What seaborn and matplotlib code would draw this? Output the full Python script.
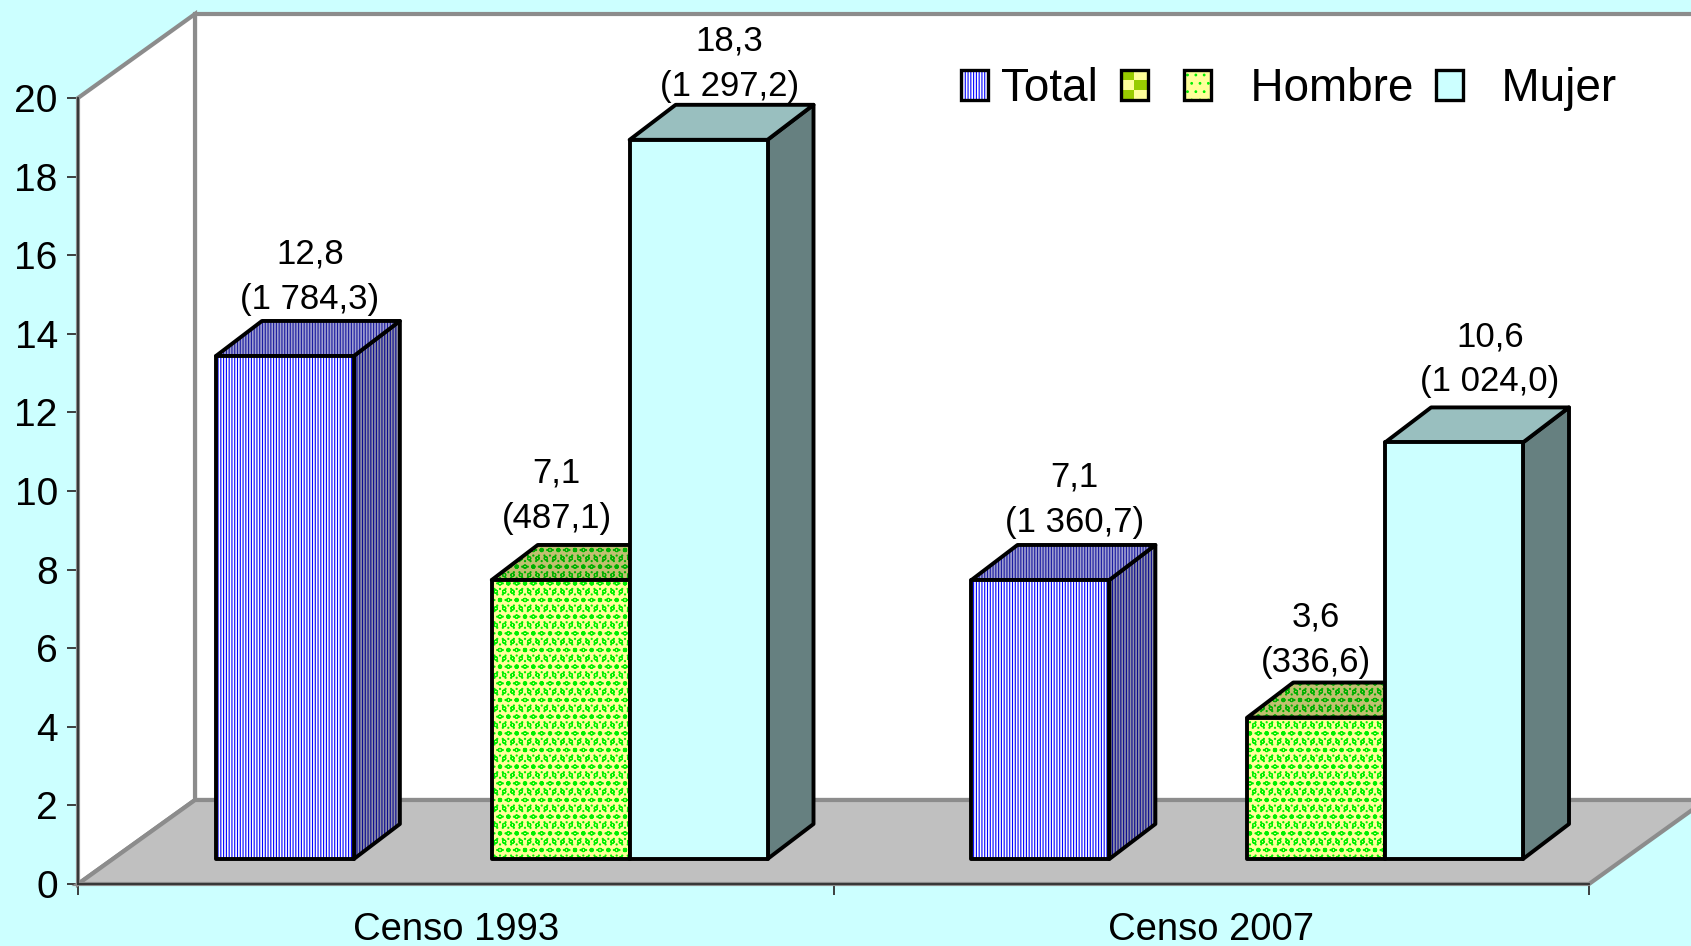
import matplotlib
matplotlib.use("Agg")
import matplotlib.pyplot as plt
import pandas as pd
import seaborn as sns
from matplotlib.patches import Polygon, Rectangle, Patch
from matplotlib.legend_handler import HandlerBase

# ---- data ----
censos = ["Censo 1993", "Censo 2007"]
total_values = [12.8, 7.1]
hombre_values = [7.1, 3.6]
mujer_values = [18.3, 10.6]
blank_series = " "
series_order = ["Total", blank_series, "Hombre", "Mujer"]
labels_total = ["12,8\n(1 784,3)", "7,1\n(1 360,7)"]
labels_hombre = ["7,1\n(487,1)", "3,6\n(336,6)"]
labels_mujer = ["18,3\n(1 297,2)", "10,6\n(1 024,0)"]
y_ticks = list(range(0, 21, 2))

# ---- style ----
W, H = 1691, 946
BG = "#CCFFFF"
GREY_EDGE = "#8C8C8C"
FLOOR = "#C0C0C0"
AX_L, AX_R, AX_B, AX_T = 78, 1589, 884, 98   # pixels, top-left origin
WALL_DX, WALL_DY = 117, 84
PLANE_DX, PLANE_DY = 36, 25
BAR_DX, BAR_DY = 46, 35
STYLES = {
    "Total":  dict(face="#FFFFFF", ink="#0000FF", hatch="|" * 6,
                   side="#9090A8", side_ink="#0A0A90", top="#A0A0D0", top_ink="#1A1AA0"),
    "Hombre": dict(face="#FFFF99", ink="#00F000", hatch="...oo",
                   side="#808040", side_ink="#00A000", top="#C0C070", top_ink="#00B000"),
    "Mujer":  dict(face="#CCFFFF", ink="#CCFFFF", hatch=None,
                   side="#668080", side_ink="#668080", top="#99BFBF", top_ink="#99BFBF"),
}
# label displacement from the bar's centre/top (pixels)
label_dx = {"Total": [25, 34], "Hombre": [-4, 0], "Mujer": [31, 36]}
label_dy = {"Total": [79, 80], "Hombre": [84, 78], "Mujer": [76, 83]}

sns.set_theme(style="white")
plt.rcParams["font.family"] = ["Liberation Sans", "DejaVu Sans"]
plt.rcParams["hatch.linewidth"] = 0.8

fig = plt.figure(figsize=(W / 100, H / 100), dpi=100, facecolor=BG)
ax = fig.add_axes([AX_L / W, (H - AX_B) / H, (AX_R - AX_L) / W, (AX_B - AX_T) / H])
ax.patch.set_visible(False)

df = pd.DataFrame({
    "censo": censos * 3,
    "serie": ["Total"] * 2 + ["Hombre"] * 2 + ["Mujer"] * 2,
    "valor": total_values + hombre_values + mujer_values,
})
sns.barplot(data=df, x="censo", y="valor", hue="serie", hue_order=series_order,
            order=censos, width=0.73, gap=0, dodge=True, errorbar=None, legend=False,
            palette={s: BG for s in series_order}, ax=ax)
ax.set_xlim(-0.5, 1.5)
ax.set_ylim(0, 20)
ax.set_xlabel("")
ax.set_ylabel("")

px_x = 2.0 / (AX_R - AX_L)
px_y = 20.0 / (AX_B - AX_T)

# walls and floor
wx, wy = WALL_DX * px_x, WALL_DY * px_y
x0, x1 = -0.5, 1.5
ax.add_patch(Polygon([(x0 + wx, wy), (x1 + wx, wy), (x1 + wx, 20 + wy), (x0 + wx, 20 + wy)],
                     facecolor="white", edgecolor=GREY_EDGE, lw=3, zorder=0.5, clip_on=False))
ax.add_patch(Polygon([(x0, 0), (x0 + wx, wy), (x0 + wx, 20 + wy), (x0, 20)],
                     facecolor="white", edgecolor=GREY_EDGE, lw=3, zorder=0.6, clip_on=False))
ax.add_patch(Polygon([(x0, 0), (x1, 0), (x1 + wx, wy), (x0 + wx, wy)],
                     facecolor=FLOOR, edgecolor=GREY_EDGE, lw=3, zorder=0.7, clip_on=False))


def face(pts, fc, ink, hatch, z):
    ax.add_patch(Polygon(pts, closed=True, facecolor=fc, edgecolor=ink, hatch=hatch,
                         lw=0, zorder=z, clip_on=False))
    ax.add_patch(Polygon(pts, closed=True, fill=False, edgecolor="black", lw=2.8,
                         joinstyle="round", zorder=z + 0.01, clip_on=False))


# 3-D bars, built on the rectangles seaborn placed
containers = [c for c in ax.containers if len(c) > 0]
names = ["Total", "Hombre", "Mujer"]
labels = {"Total": labels_total, "Hombre": labels_hombre, "Mujer": labels_mujer}
ddx, ddy = BAR_DX * px_x, BAR_DY * px_y
for k, (name, cont) in enumerate(zip(names, containers)):
    st = STYLES[name]
    z = 2 + k
    for j, rect in enumerate(cont):
        bx, bw, v = rect.get_x() + PLANE_DX * px_x, rect.get_width(), rect.get_height()
        base = PLANE_DY * px_y
        top = base + v
        rect.set_visible(False)
        face([(bx + bw, base), (bx + bw + ddx, base + ddy), (bx + bw + ddx, top + ddy), (bx + bw, top)],
             st["side"], st["side_ink"], st["hatch"], z)
        face([(bx, top), (bx + bw, top), (bx + bw + ddx, top + ddy), (bx + ddx, top + ddy)],
             st["top"], st["top_ink"], st["hatch"], z + 0.1)
        face([(bx, base), (bx + bw, base), (bx + bw, top), (bx, top)],
             st["face"], st["ink"], st["hatch"], z + 0.2)
        ax.annotate(labels[name][j], xy=(bx + bw / 2, top), xycoords="data",
                    xytext=(label_dx[name][j] * 0.72, label_dy[name][j] * 0.72),
                    textcoords="offset points", ha="center", va="center",
                    fontsize=25, linespacing=1.46, color="black", zorder=10,
                    annotation_clip=False)

# axes
for s in ("top", "right"):
    ax.spines[s].set_visible(False)
for s in ("left", "bottom"):
    ax.spines[s].set_color("#303030")
    ax.spines[s].set_linewidth(1.3)
    ax.spines[s].set_zorder(1.5)
ax.set_yticks(y_ticks)
ax.set_xticks([-0.5, 0.5, 1.5])
ax.set_xticklabels([])
ax.set_xticks([0, 1], minor=True)
ax.set_xticklabels(censos, minor=True)
ax.tick_params(axis="y", which="major", left=True, length=8, width=1.3, color="#303030",
               labelsize=28, pad=6.5, labelcolor="black")
ax.tick_params(axis="x", which="major", bottom=True, length=8, width=1.3, color="#303030")
ax.tick_params(axis="x", which="minor", bottom=False, length=0, labelsize=27.5, pad=20.5,
               labelcolor="black")


# legend
class Swatch(HandlerBase):
    def create_artists(self, legend, h, xd, yd, width, height, fontsize, trans):
        x, y = -xd, -yd
        arts = []
        base = Rectangle((x, y), width, height, facecolor=h.get_facecolor(),
                         edgecolor=h.get_edgecolor(), hatch=h.get_hatch(), lw=0, transform=trans)
        arts.append(base)
        if h.get_gid() == "checker":
            cw, ch = width / 2, height / 3
            for i, jj in [(0, 0), (1, 1), (0, 2)]:
                arts.append(Rectangle((x + i * cw, y + jj * ch), cw, ch, facecolor="#99CC00",
                                      lw=0, transform=trans))
        arts.append(Rectangle((x, y), width, height, fill=False, edgecolor="black", lw=2.4,
                              transform=trans))
        return arts


handles = [
    Patch(facecolor=STYLES["Total"]["face"], edgecolor=STYLES["Total"]["ink"], hatch=STYLES["Total"]["hatch"]),
    Patch(facecolor="#FFFF99", edgecolor="#FFFF99", gid="checker"),
    Patch(facecolor="#FFFF99", edgecolor="#00F000", hatch=".."),
    Patch(facecolor="#CCFFFF", edgecolor="#CCFFFF"),
]
leg_labels = ["Total", "", "\u00a0\u00a0Hombre", "\u00a0\u00a0Mujer"]
leg = fig.legend(handles, leg_labels, handler_map={h: Swatch() for h in handles},
                 loc="upper left", bbox_to_anchor=(961 / W, 1 - 67 / H), ncols=4, frameon=False,
                 fontsize=33, handlelength=0.58, handleheight=0.62, handletextpad=0.3,
                 columnspacing=0.5, borderpad=0, borderaxespad=0, labelcolor="black")
leg.set_zorder(20)

fig.savefig("out.png", dpi=100, facecolor=BG)
